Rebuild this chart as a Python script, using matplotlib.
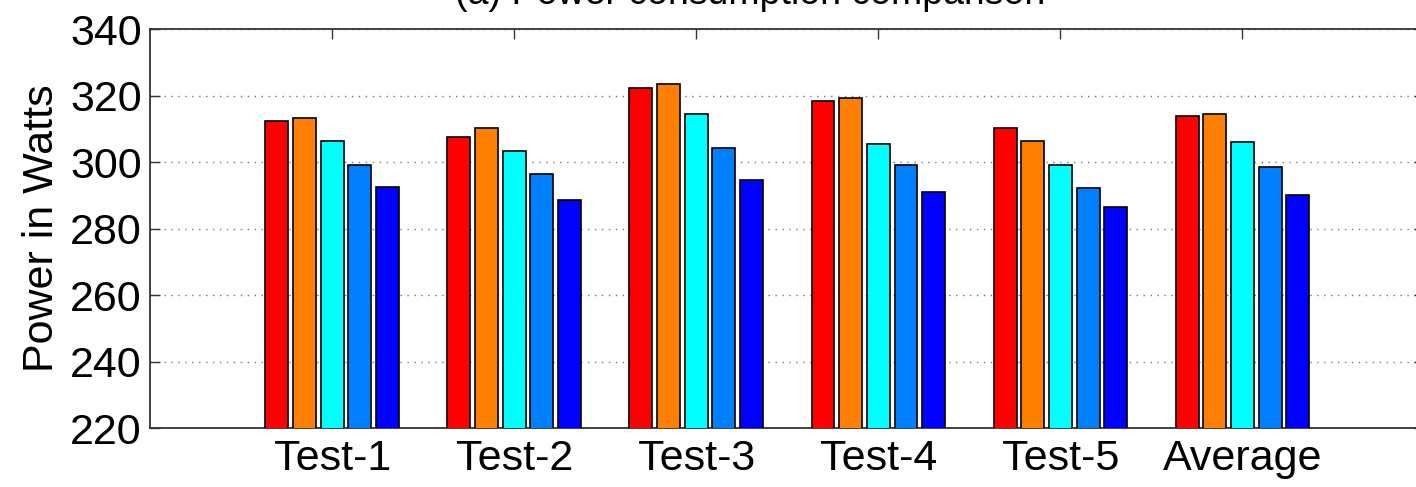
import matplotlib
matplotlib.use("Agg")
import matplotlib.pyplot as plt
import numpy as np

plt.rcParams['font.family'] = ['Liberation Sans', 'DejaVu Sans']

categories = ["Test-1", "Test-2", "Test-3", "Test-4", "Test-5", "Average"]
series_1 = [312.3, 307.7, 322.2, 318.3, 310.3, 314.0]
series_2 = [313.2, 310.2, 323.5, 319.2, 306.4, 314.6]
series_3 = [306.4, 303.4, 314.6, 305.5, 299.2, 306.0]
series_4 = [299.2, 296.5, 304.2, 299.2, 292.3, 298.5]
series_5 = [292.4, 288.5, 294.5, 291.0, 286.4, 290.2]
series = [series_1, series_2, series_3, series_4, series_5]
colors = ["#FF0000", "#FF8000", "#00FFFF", "#0080FF", "#0000FF"]
yticks = [220, 240, 260, 280, 300, 320, 340]

fig = plt.figure(figsize=(14.16, 4.87), dpi=100)
ax = fig.add_axes([0.106, 0.121, 0.90, 0.819])

x = np.arange(1, len(categories) + 1)
pitch = 0.152
width = 0.126
for i, (vals, c) in enumerate(zip(series, colors)):
    off = (i - 2) * pitch
    ax.bar(x + off, vals, width=width, color=c, edgecolor='black', linewidth=1.2, zorder=3)

ax.set_xlim(0, 7)
ax.set_ylim(220, 340)
ax.set_yticks(yticks)
ax.set_xticks(x)
ax.set_xticklabels(categories)
ax.tick_params(axis='both', direction='in', labelsize=31, length=7, width=1,
               top=True, right=True, color='#333333')
ax.tick_params(axis='x', pad=8)
ax.tick_params(axis='y', pad=6)
ax.yaxis.grid(True, linestyle=(0, (1, 4)), color='#777777', linewidth=1.0, zorder=0)
for s in ax.spines.values():
    s.set_linewidth(1.3)
    s.set_color('#333333')
ax.set_ylabel("Power in Watts", fontsize=31, labelpad=6)
fig.text(0.53, 1.012, "(a) Power consumption comparison", ha='center', va='center', fontsize=27)

fig.savefig("out.png", dpi=100)
